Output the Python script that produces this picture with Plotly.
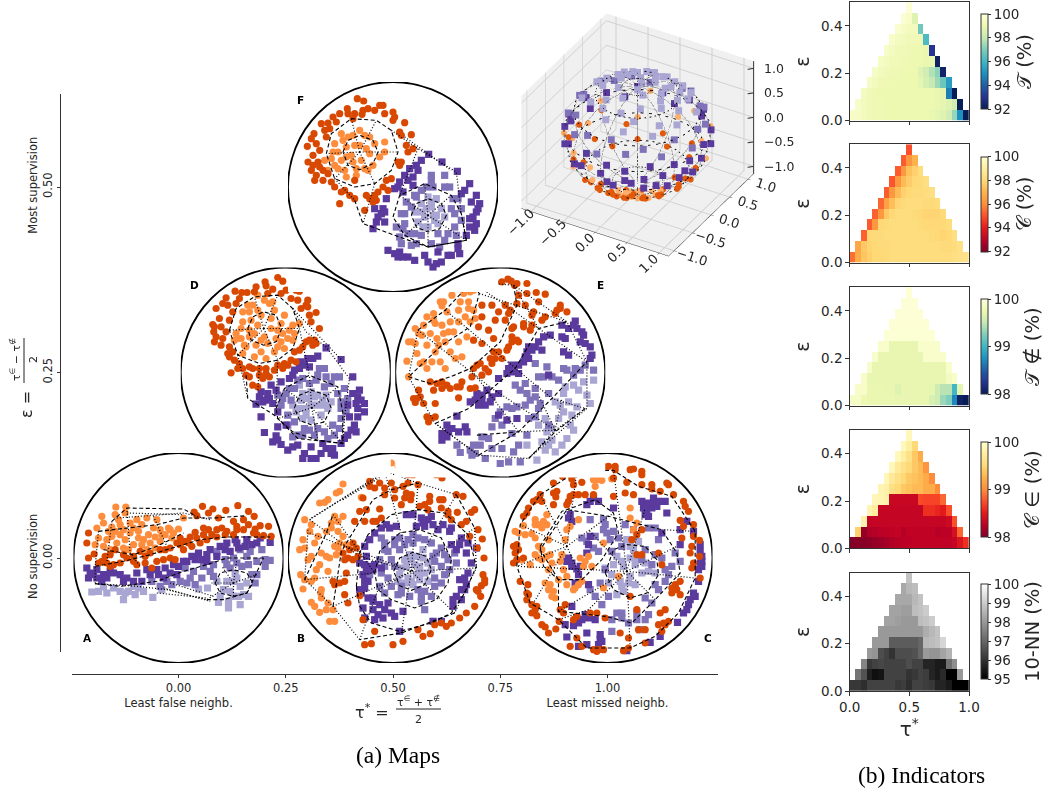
import numpy as np
import plotly.graph_objects as go

W, H = 1047, 789
FONT = "DejaVu Sans"
SERIF = "Liberation Serif"

# ---------- disc data: positions, on a 0-640 disc scale ----------
A_OD = [(397,170),(503,168),(535,185),(552,200),(467,182),(428,178),(415,190),(372,187),(380,198),(445,205),(520,210),(500,230),(555,238),(595,230),(570,228),(535,225),(580,258),(603,260),(550,250),(500,240),(470,245),(440,240),(415,240),(400,255),(375,248),(360,262),(330,265),(345,275),(320,280),(300,295),(270,300),(240,310),(210,305),(190,320),(170,325),(150,340),(120,350),(105,320),(85,340),(55,325),(50,280),(55,250),(72,313),(225,340),(260,335),(280,330),(300,325),(315,330),(365,290),(390,280),(410,270),(440,262),(465,255),(340,300),(245,355),(200,345),(190,335),(120,315),(135,300),(110,340),(130,345),(95,335),(160,315),(225,320),(285,300),(330,285),(355,280),(380,265),(425,255),(455,235),(490,215),(520,240),(490,255),(560,255),(400,235)]
A_OL = [(137,172),(167,172),(135,195),(165,190),(95,200),(100,220),(125,232),(150,225),(180,220),(200,210),(230,205),(260,210),(80,235),(110,270),(85,265),(75,285),(125,260),(150,255),(165,270),(180,250),(205,245),(235,255),(275,255),(295,235),(325,238),(340,205),(220,270),(190,285),(160,295),(215,285),(240,280),(270,275),(140,280),(300,240),(250,235),(305,265),(175,300),(115,245),(135,245),(190,235),(215,225),(270,240),(145,210),(160,240),(100,290),(205,265),(255,262),(285,255),(310,250),(230,300),(255,295),(120,300)]
A_PD = [(50,355),(60,370),(80,360),(100,375),(130,370),(150,375),(170,385),(200,370),(230,360),(260,360),(285,355),(310,345),(340,335),(365,320),(385,310),(395,330),(420,300),(450,290),(470,280),(495,270),(530,270),(570,265),(600,278),(545,285),(505,295),(480,305),(440,320),(410,335),(55,385),(80,385),(110,385),(190,395),(160,395),(215,395),(300,370),(320,375),(280,385),(95,395),(70,375),(120,365),(240,375),(265,375),(325,350),(350,335),(375,330),(410,315),(465,300),(500,280),(525,290),(560,280)]
A_PM = [(345,355),(370,365),(400,350),(430,345),(465,330),(490,325),(530,320),(575,300),(585,330),(600,332),(560,335),(540,305),(510,300),(330,395),(360,385),(395,385),(430,380),(245,395),(270,410),(305,405),(350,400),(480,355),(515,350),(560,375),(585,350),(555,400),(440,305),(470,345),(500,340),(420,365),(375,405),(290,395),(535,345),(545,375)]
A_PL = [(65,427),(85,425),(110,430),(150,425),(165,430),(195,435),(220,425),(160,450),(248,443),(275,420),(445,458),(475,455),(475,475),(510,465),(535,440),(520,435),(490,440),(510,410),(530,400),(470,395),(495,372),(440,395),(412,415),(385,418),(460,420),(490,395),(100,412),(130,415),(190,410),(175,425),(205,415),(500,385),(480,425),(505,440),(450,440)]
A_DASH = [[(75,350),(160,335),(240,315),(320,290),(390,270),(470,262),(600,262)],
          [(85,245),(170,235),(260,225),(340,205),(430,205),(530,198)],
          [(125,215),(170,175),(340,178),(370,195)],
          [(75,402),(150,410),(260,395),(340,365),(410,345),(470,325),(580,325)],
          [(100,300),(190,315),(260,290),(340,250)],
          [(435,400),(450,370),(490,360),(530,370),(548,400),(530,430),(490,440),(450,430),(435,400)],
          [(410,450),(460,450),(530,430),(580,325)]]
A_DOT = [[(75,402),(200,410),(290,420),(410,450)],[(170,175),(180,310),(210,350)],[(250,200),(290,290)],
         [(170,190),(340,195)],[(140,205),(340,190),(420,210)],[(260,430),(410,445)],[(490,400),(410,450)],[(490,400),(420,400)],
         [(490,400),(455,350)],[(490,400),(500,330)],[(490,400),(560,375)],[(490,400),(490,440)],[(85,245),(75,350),(75,402)],[(125,215),(110,340)],[(280,415),(420,455)],[(300,400),(430,440)]]

B_OD = [(440,70),(455,75),(472,85),(400,62),(385,75),(370,75),(370,100),(400,105),(355,110),(320,100),(285,100),(255,95),(270,115),(235,145),(300,135),(330,120),(330,145),(380,135),(378,150),(360,145),(350,165),(435,140),(435,155),(465,150),(475,150),(515,135),(535,140),(570,180),(560,188),(518,188),(490,185),(490,195),(430,180),(405,170),(245,180),(225,185),(285,178),(210,215),(240,215),(265,215),(290,205),(275,215),(500,210),(530,225),(580,240),(555,260),(593,268),(578,295),(598,325),(595,375),(600,390),(600,400),(590,408),(575,420),(588,440),(580,425),(570,470),(545,490),(525,505),(500,520),(485,530),(470,520),(450,525),(437,552),(415,560),(400,540),(355,575),(325,585),(260,582),(240,585),(270,545),(235,510),(205,280),(215,295),(220,320),(175,310),(190,325),(185,370),(180,395),(150,405),(145,395),(180,435),(190,460),(225,438),(195,300),(180,330),(205,330),(165,400),(255,110),(300,115),(365,130),(420,165),(470,175),(545,215)]
B_OL = [(320,40),(340,48),(175,103),(165,125),(155,130),(130,150),(120,158),(105,160),(230,143),(175,200),(150,200),(140,220),(60,210),(80,225),(75,245),(55,270),(45,300),(60,295),(90,280),(160,245),(175,260),(185,285),(150,290),(125,320),(155,315),(135,325),(80,320),(105,345),(130,365),(48,375),(90,385),(80,395),(60,390),(55,418),(108,430),(110,445),(80,458),(90,470),(105,488),(125,480),(145,480),(135,515),(150,515),(160,295),(140,235),(125,245),(165,280),(110,310),(95,360),(70,330),(110,420),(130,460),(160,215),(100,260)]
B_PD = [(225,340),(240,345),(255,350),(235,375),(250,395),(240,415),(225,420),(230,430),(250,445),(265,455),(285,465),(310,460),(235,475),(265,480),(240,505),(270,510),(295,505),(320,490),(330,500),(355,485),(345,545),(445,515),(470,515),(505,470),(515,440),(540,420),(545,405),(525,390),(550,370),(560,340),(545,310),(575,295),(550,280),(500,285),(525,285),(495,245),(500,235),(460,240),(430,210),(410,205),(395,230),(365,195),(305,225),(290,235),(255,270),(240,290),(335,230),(420,230),(440,200),(530,450),(270,345),(290,355),(245,320),(265,360),(245,365),(240,395),(265,445),(300,480),(280,495),(505,450),(530,420),(540,385),(515,300),(530,265),(475,225),(445,225),(415,220),(385,195),(315,235),(270,250)]
B_PM = [(345,265),(330,270),(290,265),(300,280),(310,305),(345,300),(370,270),(385,280),(420,270),(440,280),(470,295),(480,315),(445,320),(450,335),(470,350),(510,310),(515,340),(480,375),(450,385),(470,400),(420,425),(410,440),(410,455),(375,440),(340,435),(300,430),(285,410),(310,385),(290,370),(270,345),(320,330),(330,350),(285,330),(420,480),(350,410),(385,255),(300,300),(330,285),(360,285),(400,265),(455,310),(490,330),(495,360),(450,410),(440,440),(400,420),(350,430),(320,410),(300,350),(255,375)]
B_PL = [(360,330),(375,315),(395,320),(415,325),(430,340),(405,350),(395,375),(370,385),(360,400),(385,405),(405,390),(420,370),(345,375),(350,355),(390,345),(415,300),(440,360),(365,350),(380,330),(405,370),(380,395),(340,395),(430,395)]
B_DASH = [[(327,365),(345,325),(385,308),(425,320),(440,360),(420,405),(380,422),(345,408),(327,365)],
          [(270,370),(285,305),(345,250),(405,240),(470,265),(500,330),(490,400),(455,450),(390,475),(320,450),(280,420),(270,370)],
          [(215,410),(225,310),(250,255),(320,195),(400,180),(480,190),(550,255),(575,350),(540,430),(500,490),(440,520),(345,545),(260,520),(225,470),(215,410)],
          [(145,470),(170,305),(265,150),(320,120),(400,100)],[(60,390),(125,250),(145,195)],[(515,135),(570,235)],[(510,490),(350,550),(225,570)]]
B_DOT = [[(400,100),(515,135)],[(570,235),(575,355),(510,490)],[(225,570),(145,470),(60,390)],[(75,210),(300,65)],[(80,205),(300,70)],[(300,65),(400,100)],[(70,240),(60,390)],[(75,210),(225,320),(380,365)],
         [(145,195),(270,370)],[(75,250),(380,365)],[(60,390),(270,370)],[(145,470),(380,365)],[(225,570),(280,420),(380,365)],[(350,550),(380,365)],[(510,490),(380,365)],[(575,355),(380,365)],[(570,235),(380,365)],[(515,135),(380,365)],[(400,100),(380,365)],[(300,65),(380,365)],[(175,150),(300,75)]]

C_OD = [(240,58),(255,55),(270,52),(285,50),(300,48),(330,50),(350,50),(350,60),(395,60),(405,58),(430,65),(430,75),(345,85),(385,98),(430,105),(460,105),(505,100),(510,105),(460,118),(485,125),(380,130),(405,135),(345,140),(165,100),(192,80),(220,88),(225,105),(250,98),(175,125),(165,130),(172,142),(125,135),(105,155),(130,155),(85,190),(75,200),(225,135),(240,135),(210,155),(205,165),(165,165),(260,135),(525,135),(555,155),(560,170),(570,185),(545,212),(555,230),(585,225),(550,265),(585,260),(603,272),(580,290),(575,310),(603,320),(585,340),(580,355),(605,385),(545,395),(530,405),(520,415),(520,430),(545,435),(45,290),(55,285),(50,310),(45,340),(75,325),(65,395),(88,405),(85,430),(85,450),(100,465),(115,470),(100,490),(115,498),(130,525),(140,532),(150,550),(172,538),(182,515),(200,465),(185,480),(195,490),(235,500),(225,510),(215,590),(235,565),(250,590),(285,600),(295,605),(315,600),(375,603),(390,595),(440,580),(420,540),(440,540),(365,550),(390,565),(320,505),(295,490),(275,490),(480,525),(495,520),(510,515),(490,545),(485,490),(500,480),(415,480),(395,440),(415,315),(430,315),(480,310),(490,345),(400,270),(415,255),(430,240),(280,65),(320,52),(115,150),(90,175),(60,300),(55,330),(90,435),(110,480),(500,525),(530,410),(535,420),(300,600),(285,135),(215,140)]
C_OL = [(285,90),(295,90),(310,92),(340,88),(290,110),(145,195),(110,210),(110,225),(135,215),(145,225),(130,235),(75,228),(50,245),(80,255),(100,252),(110,265),(150,270),(215,230),(205,240),(240,210),(200,270),(120,290),(110,315),(145,320),(155,315),(130,330),(95,345),(70,330),(150,360),(185,335),(190,315),(205,380),(180,390),(140,400),(155,405),(225,420),(230,415),(250,395),(160,440),(170,445),(205,405),(315,280),(360,380),(315,415),(255,350),(245,325),(270,320),(280,350),(395,175),(415,220),(395,205),(405,240),(120,225),(60,250),(130,300),(120,325),(160,340),(195,360),(150,420),(165,425),(240,405),(260,335)]
C_PD = [(285,145),(300,155),(265,165),(210,205),(220,215),(430,155),(445,160),(465,145),(465,160),(435,175),(445,180),(460,175),(475,170),(450,200),(500,155),(505,190),(490,250),(545,240),(565,215),(585,245),(605,285),(605,305),(610,320),(605,340),(610,335),(545,285),(600,395),(585,430),(575,450),(570,465),(555,490),(537,518),(485,560),(455,578),(385,603),(205,562),(240,590),(265,585),(305,555),(310,575),(300,585),(260,495),(270,505),(250,510),(240,520),(225,528),(200,525),(265,550),(220,470),(205,335),(220,350),(235,358),(245,350),(270,285),(265,310),(230,400),(270,405),(275,260),(345,175),(440,195),(480,155),(275,155),(215,195),(220,340),(210,325),(240,375),(290,510),(235,505),(305,570),(590,440),(565,480),(610,350),(600,360)]
C_PM = [(275,210),(315,210),(320,225),(315,240),(345,245),(380,225),(405,240),(335,270),(360,265),(450,235),(470,235),(480,270),(530,310),(545,335),(490,325),(500,360),(510,375),(470,315),(430,330),(300,305),(320,360),(305,400),(275,420),(310,465),(355,490),(370,505),(390,520),(415,490),(415,510),(340,545),(425,540),(450,495),(460,460),(265,275),(250,265),(340,510),(480,420),(290,260),(285,295),(325,250),(340,305),(370,290),(440,300),(460,345),(520,350),(500,395),(470,405),(440,445),(290,440),(330,440),(370,490),(440,510)]
C_PL = [(385,270),(420,275),(405,300),(355,320),(370,335),(345,345),(395,325),(410,345),(430,370),(365,395),(390,400),(410,405),(375,425),(355,435),(340,375),(320,355),(450,365),(470,370),(375,350),(395,290),(415,325),(440,340),(395,380),(370,410),(330,400)]
C_DASH = [[(320,370),(345,300),(385,285),(440,290),(475,330),(480,375),(445,430),(395,445),(345,420),(320,370)],
          [(180,390),(125,300),(205,180),(330,200),(490,240),(535,310),(545,370),(470,450),(400,520),(320,500),(180,485),(180,390)],
          [(55,350),(65,225),(125,135),(235,65),(345,62),(420,110),(520,140),(590,245),(590,385),(540,490),(470,560),(395,595),(265,595),(180,510),(95,460),(55,350)],
          [(125,290),(190,185),(290,150),(345,190),(360,250),(310,330),(250,390),(180,390),(135,350),(125,290)]]
C_DOT = [[(385,365),(590,385)],[(385,365),(535,290)],[(385,365),(440,175)],[(385,365),(345,62)],[(385,365),(270,240)],[(385,365),(55,350)],[(385,365),(180,485)],[(385,365),(270,480)],[(385,365),(395,595)],[(385,365),(470,450)],
         [(205,290),(65,225)],[(205,290),(125,135)],[(205,290),(235,65)],[(205,290),(345,190)],[(205,290),(250,390)],[(205,290),(55,350)],[(205,290),(105,460)],[(590,245),(490,240)],[(270,480),(180,510)]]

D_OD = [(300,47),(315,58),(262,60),(265,72),(235,75),(172,88),(192,92),(208,92),(285,82),(325,85),(310,95),(355,85),(365,88),(145,108),(185,110),(135,125),(150,130),(360,115),(390,115),(385,130),(390,135),(115,140),(165,150),(125,170),(415,152),(155,175),(105,188),(110,195),(130,195),(400,180),(425,200),(108,210),(115,225),(110,240),(130,250),(155,255),(165,270),(155,285),(170,295),(185,305),(160,333),(195,320),(215,315),(225,320),(245,320),(265,320),(265,335),(245,340),(225,370),(240,375),(275,345),(300,310),(320,305),(340,295),(350,270),(365,265),(385,240),(410,235),(415,245),(405,250),(215,345),(205,340),(330,310),(355,300),(175,125),(230,90),(270,95),(340,110),(370,140),(395,160),(135,230),(145,210),(150,275),(180,320),(255,350),(290,325),(315,320),(375,255),(395,235)]
D_OL = [(260,115),(285,120),(240,100),(210,130),(195,150),(290,145),(320,160),(240,145),(220,175),(240,190),(195,180),(190,200),(230,215),(260,225),(280,200),(300,205),(335,205),(365,185),(330,230),(295,230),(270,245),(235,250),(205,255),(170,235),(180,230),(200,250),(250,270),(290,270),(320,260),(300,255),(345,235),(230,285),(195,275),(175,215),(350,215),(215,150),(250,160),(280,170),(215,205),(250,235),(215,225),(310,185),(315,215),(275,125),(225,130),(190,230),(265,290),(310,240),(345,190)]
D_PD = [(445,258),(490,293),(420,283),(405,290),(390,290),(370,300),(395,315),(365,320),(345,340),(335,350),(310,360),(280,370),(250,390),(270,395),(245,405),(265,415),(285,425),(235,427),(250,465),(300,450),(525,345),(545,385),(525,395),(540,405),(560,425),(540,440),(560,450),(540,465),(530,490),(535,510),(500,530),(490,545),(260,512),(295,522),(285,540),(310,548),(330,565),(360,550),(380,575),(375,590),(400,590),(430,575),(460,575),(465,560),(400,555),(435,545),(300,495),(325,490),(515,465),(510,430),(380,310),(350,325),(295,385),(275,410),(255,420),(535,425),(550,415),(520,505),(510,520),(470,580),(445,560),(415,590),(345,555),(300,535)]
D_PM = [(425,320),(440,320),(485,345),(460,365),(415,355),(440,375),(375,350),(395,365),(350,380),(325,395),(340,415),(500,380),(480,395),(490,420),(300,400),(310,430),(330,460),(350,480),(380,500),(440,510),(465,490),(490,470),(505,450),(360,520),(410,520),(345,525),(450,530),(420,340),(360,355),(445,345),(470,345),(335,380),(315,410),(510,410),(490,440),(330,490),(375,520),(395,505),(420,500),(470,520),(485,500)]
D_PL = [(375,395),(400,390),(420,400),(445,400),(460,420),(450,440),(430,460),(400,475),(375,470),(355,450),(345,430),(370,415),(385,440),(420,430),(410,405),(365,370),(390,410),(400,430),(435,415),(440,430),(385,460),(365,440)]
D_DASH = [[(210,200),(225,165),(258,150),(295,160),(312,200),(295,240),(258,250),(220,235),(210,200)],
          [(155,205),(175,140),(230,105),(300,100),(345,140),(365,200),(345,260),(300,295),(245,305),(180,280),(155,205)],
          [(350,438),(365,400),(402,385),(445,400),(460,438),(440,480),(402,490),(365,475),(350,438)],
          [(295,440),(320,380),(395,340),(480,375),(495,450),(495,545),(420,535),(345,510),(300,470),(295,440)],
          [(205,340),(210,410),(290,460),(360,530),(495,545)]]
D_DOT = [[(345,140),(385,210),(445,255),(515,350),(500,470),(495,545)],[(180,280),(210,410)],[(245,310),(240,390)],[(300,295),(295,440)],[(365,200),(395,340)],[(345,140),(490,293)],
         [(258,200),(230,105)],[(258,200),(300,100)],[(258,200),(365,200)],[(258,200),(300,295)],[(258,200),(180,280)],[(258,200),(155,205)],
         [(402,438),(320,380)],[(402,438),(395,340)],[(402,438),(480,375)],[(402,438),(495,545)],[(402,438),(420,535)],[(402,438),(300,470)]]

E_OD = [(240,60),(260,60),(300,58),(310,62),(348,52),(358,58),(368,70),(405,65),(433,92),(460,97),(405,95),(380,100),(400,130),(440,120),(505,130),(495,145),(525,150),(490,155),(450,175),(425,150),(420,160),(340,130),(375,125),(350,155),(320,150),(300,130),(270,130),(310,175),(260,195),(290,205),(245,235),(270,245),(305,230),(360,200),(365,195),(395,195),(420,190),(415,205),(360,225),(375,235),(360,240),(345,265),(320,270),(305,270),(295,290),(300,305),(330,290),(255,310),(245,320),(290,330),(270,340),(240,345),(210,360),(195,375),(175,380),(150,380),(135,365),(115,360),(235,380),(250,378),(200,408),(150,360),(130,425),(95,425),(65,410),(70,422),(105,465),(115,470),(130,465),(110,480),(85,405),(80,385),(375,65),(330,60),(270,165),(355,145),(340,175),(395,185),(310,290),(265,305),(280,320),(205,375),(165,370),(125,385),(350,255),(460,165),(505,140),(380,240),(75,410)]
E_OL = [(145,120),(155,120),(150,132),(180,100),(195,78),(235,90),(245,85),(205,120),(230,120),(245,145),(230,140),(200,145),(105,165),(125,175),(95,190),(70,200),(60,240),(50,240),(80,215),(105,250),(135,230),(155,215),(185,210),(160,240),(200,240),(235,180),(200,180),(175,180),(150,190),(45,298),(75,275),(85,305),(105,320),(145,300),(160,320),(190,290),(210,285),(130,185),(50,345),(165,150),(215,95),(125,155),(90,220),(70,245),(115,215),(140,250),(170,210),(220,165),(250,170),(130,270),(95,300),(120,300),(175,270),(225,225)]
E_PD = [(550,178),(510,190),(530,200),(555,200),(570,210),(575,220),(520,230),(580,245),(595,255),(475,220),(455,225),(430,255),(405,270),(450,265),(410,290),(395,300),(350,320),(380,310),(365,330),(380,335),(320,350),(515,270),(530,280),(600,280),(595,290),(470,340),(285,385),(255,395),(270,410),(280,430),(260,430),(295,420),(320,395),(235,420),(195,463),(165,490),(180,500),(150,515),(150,535),(200,510),(220,495),(225,510),(320,460),(345,475),(375,470),(400,285),(420,265),(360,310),(345,335),(510,225),(565,240),(270,400),(250,415),(300,405),(170,510),(165,525),(440,240),(410,255),(545,190)]
E_PM = [(430,305),(465,315),(515,320),(550,320),(580,310),(605,325),(480,345),(545,340),(500,355),(400,365),(370,370),(430,380),(405,395),(430,405),(470,395),(400,430),(375,435),(345,435),(325,450),(300,495),(330,490),(290,530),(270,525),(235,565),(240,580),(205,572),(195,550),(280,590),(325,605),(350,600),(330,560),(385,600),(360,515),(405,520),(380,550),(245,550),(440,440),(430,465),(470,490),(525,325),(565,325),(455,345),(440,345),(385,385),(415,415),(445,425),(360,440),(310,470),(265,550),(300,560),(250,575),(365,570),(410,470)]
E_PL = [(515,395),(545,370),(575,360),(605,355),(585,400),(595,425),(515,450),(540,460),(490,420),(460,470),(480,500),(545,505),(440,490),(450,540),(470,550),(490,570),(510,550),(435,595),(405,550),(530,420),(560,385),(520,375),(505,430),(555,435),(465,510),(500,470),(535,490),(460,565),(480,535),(525,530)]
E_DASH = [[(50,345),(115,365),(175,345),(235,320),(325,240),(375,130),(365,70)],
          [(130,485),(230,440),(300,380),(370,320),(440,200),(525,180)],
          [(260,580),(380,510),(480,410),(585,300)],[(410,590),(490,510),(580,440)],[(255,520),(380,510)],
          [(78,205),(160,145),(240,60),(262,95),(235,195),(150,250),(50,345)]]
E_DOT = [[(240,60),(365,70),(525,180),(585,300),(585,440),(410,590),(260,580),(130,485),(50,345),(78,205)],
         [(490,505),(380,510)],[(490,505),(410,590)],[(490,505),(580,440)],[(490,505),(510,410)],[(490,505),(440,400)],
         [(160,145),(370,320),(480,410),(580,440)],[(78,205),(300,380),(490,505)],[(365,70),(440,200),(585,300)],[(240,60),(440,200)],[(262,95),(525,180)],[(235,320),(380,510)],[(130,485),(260,580)]]

F_OD = [(218,55),(237,62),(285,75),(295,75),(250,85),(235,90),(232,102),(188,85),(165,100),(190,100),(210,100),(300,100),(325,95),(330,110),(360,127),(110,130),(130,128),(155,125),(135,145),(88,160),(125,170),(80,175),(95,190),(68,198),(85,225),(345,155),(380,163),(365,195),(385,205),(370,215),(70,245),(85,255),(100,245),(105,260),(80,270),(95,285),(90,300),(115,300),(130,280),(340,245),(345,255),(320,295),(305,300),(295,320),(280,335),(270,345),(275,360),(245,345),(150,320),(170,335),(195,345),(210,355),(165,370),(240,390),(210,300),(270,90),(205,115),(145,110),(120,150),(105,210),(115,270),(140,305),(180,330),(350,245),(310,330),(265,365),(255,355),(350,165),(325,120)]
F_OL = [(225,150),(205,165),(240,165),(175,180),(150,190),(185,200),(160,215),(200,225),(245,205),(230,240),(205,245),(185,230),(140,235),(160,265),(265,255),(185,290),(215,285),(130,270),(120,240),(300,215),(270,190),(255,220),(300,185),(250,270),(210,195),(225,195),(190,170),(170,240),(215,265),(180,270),(240,265),(285,230),(255,170),(170,160),(150,255),(145,215)]
F_PD = [(432,222),(472,245),(518,273),(410,240),(395,255),(375,265),(360,285),(385,290),(345,305),(330,325),(385,315),(355,335),(305,355),(270,385),(295,385),(280,410),(300,425),(265,445),(310,510),(345,515),(340,530),(370,530),(390,540),(430,545),(445,560),(470,545),(490,525),(525,520),(545,465),(570,450),(575,430),(555,415),(575,395),(585,370),(560,365),(575,345),(555,310),(530,340),(520,490),(460,515),(420,525),(370,300),(400,270),(340,320),(290,400),(300,395),(275,425),(565,410),(580,385),(555,440),(520,505),(500,525),(455,550),(355,530),(330,520),(540,330)]
F_PM = [(480,285),(440,285),(425,320),(410,330),(390,345),(365,365),(360,400),(335,440),(360,430),(390,460),(410,465),(440,490),(480,480),(510,440),(530,420),(530,385),(505,355),(495,320),(520,355),(350,490),(395,490),(460,460),(370,460),(445,320),(480,320),(500,385),(510,400),(515,465),(490,460),(465,500),(350,400),(355,445),(440,300),(395,350),(380,380),(345,470),(380,495)]
F_PL = [(430,350),(455,355),(470,385),(480,410),(460,430),(430,440),(400,425),(390,395),(410,370),(440,380),(445,405),(420,410),(410,395),(440,365),(455,405),(450,420),(415,440),(425,385)]
F_DASH = [[(175,215),(190,180),(225,165),(265,180),(280,215),(265,250),(225,268),(190,255),(175,215)],
          [(125,220),(140,160),(200,115),(275,120),(320,150),(340,215),(320,270),(270,310),(210,320),(150,295),(125,220)],
          [(380,405),(395,370),(430,355),(470,370),(485,405),(465,445),(430,455),(395,440),(380,405)],
          [(325,410),(345,345),(420,310),(500,345),(530,400),(545,480),(430,500),(360,465),(325,410)],
          [(210,360),(235,430),(330,465),(430,500),(545,480)]]
F_DOT = [[(320,150),(400,205),(515,275),(530,400),(545,480)],[(150,295),(210,360)],[(270,310),(235,430)],[(400,205),(345,345)],[(360,170),(430,220),(500,270)],
         [(225,215),(200,115)],[(225,215),(275,120)],[(225,215),(340,215)],[(225,215),(270,310)],[(225,215),(150,295)],[(225,215),(125,220)],
         [(430,405),(345,345)],[(430,405),(420,310)],[(430,405),(500,345)],[(430,405),(545,480)],[(430,405),(430,500)],[(430,405),(360,465)]]

DISC_CENTRES = {"A": (0.0, 0.0), "B": (0.5, 0.0), "C": (1.0, 0.0), "D": (0.25, 0.25), "E": (0.75, 0.25), "F": (0.5, 0.5)}
DISC_SCALE_CENTRE = {"A": (325, 325), "B": (325, 325), "C": (327, 325), "D": (324, 332), "E": (325, 332), "F": (325, 320)}
DISC_DATA = {"A": (A_OD, A_OL, A_PD, A_PM, A_PL, A_DASH, A_DOT), "B": (B_OD, B_OL, B_PD, B_PM, B_PL, B_DASH, B_DOT),
             "C": (C_OD, C_OL, C_PD, C_PM, C_PL, C_DASH, C_DOT), "D": (D_OD, D_OL, D_PD, D_PM, D_PL, D_DASH, D_DOT),
             "E": (E_OD, E_OL, E_PD, E_PM, E_PL, E_DASH, E_DOT), "F": (F_OD, F_OL, F_PD, F_PM, F_PL, F_DASH, F_DOT)}

# ---------- sphere data (latitude, longitude in degrees) ----------
S_PL = [(75,-150),(72,-100),(78,-40),(70,10),(74,60),(76,110),(70,160),(60,-170),(62,-125),(58,-85),(64,-55),(60,-20),(56,15),(62,45),(58,80),(63,120),(58,150),(50,-140),(48,-100),(52,-65),(46,-35),(50,0),(47,30),(52,65),(48,100),(46,135),(50,175),(40,-160),(42,-75),(38,-45),(41,-15),(36,20),(40,50),(37,90),(42,125),(85,-60),(85,80),(66,-10),(55,-115),(44,170),(68,35),(65,85),(67,140),(55,35),(53,100),(54,165),(45,60),(45,110)]
S_PM = [(30,-175),(32,-140),(28,-110),(33,-85),(27,-55),(30,-25),(26,5),(32,35),(28,65),(33,95),(27,125),(30,155),(18,-160),(20,-125),(16,-95),(22,-70),(18,-40),(15,-10),(21,20),(17,50),(20,80),(16,110),(22,140),(18,170)]
S_PD = [(8,-170),(10,-150),(6,-130),(12,-105),(8,-85),(5,-70),(10,-50),(7,-30),(4,-15),(9,5),(6,30),(10,55),(7,75),(4,100),(9,120),(6,145),(10,165),(-4,-175),(-2,-140),(-5,-110),(-3,-90),(-6,-70),(-4,-55),(-2,-40),(-5,-20),(-3,0),(-6,25),(-2,60),(-5,90),(-3,130),(-6,160),(-10,-120),(-12,-85),(-9,-65),(-14,-45),(-11,-25),(-13,-10),(-15,-80),(-16,-55),(-18,-35)]
S_OL = [(-2,-155),(3,-120),(-1,-100),(2,40),(-3,70),(4,110),(-2,150),(-20,-170),(-22,-130),(-18,-100),(-25,-70),(-20,20),(-23,50),(-17,85),(-24,120),(-19,165),(-62,-90),(-64,-70),(-68,-50),(-60,-30),(-70,-110),(-72,-20),(-75,-80),(-66,-10),(-58,-60),(-55,-45),(-78,-60),(-82,-30)]
S_OD = [(-30,-150),(-35,-120),(-33,-100),(-38,-85),(-32,-65),(-36,-40),(-30,-20),(-34,0),(-38,25),(-32,60),(-36,95),(-30,130),(-35,165),(-42,-160),(-46,-125),(-44,-105),(-48,-85),(-45,-75),(-42,-55),(-47,-35),(-44,-12),(-48,15),(-42,50),(-46,85),(-44,120),(-47,150),(-52,-100),(-55,-75),(-52,-50),(-56,-25),(-52,5),(-58,-130),(-60,-105),(-62,-50),(-65,-5),(-60,30),(-72,-70),(-76,-100),(-80,-40),(-68,-85),(-15,-165),(-15,175),(-12,150)]
S_MESH_LATS = [-70, -45, -20, 5, 30, 55, 78]
S_MESH_LONS = [-180, -150, -120, -90, -60, -30, 0, 30, 60, 90, 120, 150]
S_MESH_STEP_LON = [-180,-165,-150,-135,-120,-105,-90,-75,-60,-45,-30,-15,0,15,30,45,60,75,90,105,120,135,150,165,180]
S_MESH_STEP_LAT = [-85,-70,-55,-40,-25,-10,5,20,35,50,65,78,88]
S_TICKS = [-1, -.5, 0, .5, 1]
S_TICK_TEXT = ["−1.0", "−0.5", "0.0", "0.5", "1.0"]
S_LIM = 1.15

# ---------- heatmap rows: bottom row first ----------
T_IN = [
 [99.6,99.5,99.3,99.2,99.1,99.1,99.0,99.0,99.0,99.0,99.0,99.0,99.0,99.0,98.9,98.8,98.6,98.3,97.3,95.0,92.0],
 [99.6,99.3,99.2,99.1,99.1,99.0,99.0,99.0,99.0,99.0,99.0,99.0,99.0,99.0,98.9,98.8,98.6,98.2,92.0],
 [99.4,99.2,99.1,99.0,99.0,99.0,99.0,99.0,99.0,99.0,99.0,99.0,99.0,98.9,98.8,94.6,92.0],
 [99.5,99.3,99.1,99.1,99.0,99.0,99.0,99.0,99.0,98.8,98.4,98.0,97.4,96.7,95.3],
 [99.5,99.3,99.2,99.1,99.1,99.0,99.0,99.0,98.6,98.3,97.7,97.2,92.3],
 [99.5,99.4,99.2,99.2,99.1,99.0,99.0,99.0,98.9,98.9,92.2],
 [99.6,99.4,99.2,99.2,99.1,99.0,99.0,98.9,93.0],
 [99.6,99.4,99.3,99.2,99.2,99.1,96.2],
 [99.7,99.5,99.3,99.3,96.8],
 [99.8,99.6,98.6],
 [99.9]]
C_IN = [
 [95.5,96.8,97.5,97.8,98.0,98.0,98.1,98.2,98.2,98.2,98.2,98.2,98.2,98.2,98.2,98.2,98.2,98.2,98.3,98.4,98.5],
 [96.7,97.6,97.9,98.0,98.1,98.1,98.2,98.2,98.2,98.2,98.2,98.2,98.2,98.2,98.2,98.1,98.1,98.2,98.4],
 [95.3,98.0,98.1,98.1,98.2,98.2,98.2,98.2,98.2,98.2,98.2,98.2,98.1,98.0,97.9,98.0,98.3],
 [95.2,96.3,98.0,98.1,98.2,98.2,98.2,98.2,98.2,98.1,98.0,98.0,98.0,98.0,98.2],
 [95.3,96.3,97.6,98.0,98.2,98.2,98.2,98.1,98.0,97.9,97.9,97.9,98.1],
 [95.4,96.5,97.3,97.9,98.1,98.2,98.2,98.2,98.1,98.1,98.2],
 [95.2,96.3,97.2,97.8,98.0,98.1,98.1,98.2,98.3],
 [95.1,96.3,97.2,97.7,98.0,98.1,98.3],
 [95.2,96.3,97.4,97.8,98.2],
 [95.2,96.2,97.0],
 [95.0]]
T_OUT = [
 [99.88,99.88,99.76,99.74,99.74,99.74,99.73,99.73,99.72,99.72,99.72,99.72,99.72,99.72,99.62,99.55,99.35,99.25,98.7,98.05,98.0],
 [99.9,99.9,99.74,99.73,99.73,99.72,99.72,99.65,99.72,99.72,99.72,99.72,99.72,99.7,99.55,99.45,99.45,99.0,99.7],
 [99.9,99.72,99.72,99.72,99.72,99.72,99.72,99.72,99.72,99.72,99.72,99.72,99.72,99.72,99.72,99.85,99.9],
 [99.9,99.72,99.72,99.72,99.72,99.72,99.72,99.72,99.72,99.72,99.72,99.72,99.72,99.72,99.92],
 [99.92,99.72,99.72,99.72,99.72,99.72,99.72,99.72,99.72,99.92,99.92,99.92,99.92],
 [99.92,99.92,99.72,99.72,99.72,99.72,99.72,99.92,99.92,99.92,99.92],
 [99.96,99.96,99.96,99.96,99.96,99.96,99.96,99.96,99.96],
 [99.97,99.97,99.97,99.97,99.97,99.97,99.97],
 [99.98,99.98,99.98,99.98,99.98],
 [99.98,99.98,99.98],
 [99.99]]
C_OUT = [
 [98.02,98.03,98.03,98.05,98.08,98.12,98.15,98.2,98.22,98.25,98.25,98.27,98.27,98.27,98.27,98.27,98.27,98.27,98.3,98.45,98.6],
 [99.45,98.08,98.2,98.22,98.25,98.25,98.27,98.28,98.22,98.27,98.27,98.27,98.27,98.27,98.22,98.25,98.25,98.4,98.85],
 [99.8,98.28,98.3,98.3,98.3,98.3,98.3,98.3,98.3,98.3,98.3,98.3,98.3,98.3,98.3,98.35,98.75],
 [99.85,99.75,98.3,98.3,98.3,98.3,98.3,98.3,98.3,98.3,98.6,98.6,98.55,98.5,98.75],
 [99.88,99.85,99.8,98.32,98.32,98.32,98.32,98.32,98.72,98.7,98.7,98.7,98.85],
 [99.85,99.8,99.6,99.5,99.4,99.35,99.3,99.3,99.2,99.2,99.0],
 [99.88,99.7,99.6,99.5,99.4,99.35,99.3,99.2,99.0],
 [99.9,99.7,99.6,99.5,99.4,99.3,99.05],
 [99.9,99.75,99.6,99.4,99.2],
 [99.9,99.75,99.5],
 [99.9]]
KNN = [
 [96.1,96.1,95.9,96.3,96.3,96.3,96.3,96.3,96.1,96.2,95.9,96.3,96.3,96.2,96.1,95.7,95.7,95.5,95.0,95.0,95.0],
 [97.3,96.6,95.6,95.3,95.4,96.3,96.3,96.3,96.3,96.0,96.1,96.3,96.2,95.7,95.5,95.8,95.0,95.0,98.0],
 [97.6,96.1,96.3,96.4,96.3,96.3,96.3,96.3,96.5,96.3,96.3,95.7,95.7,95.5,95.5,97.2,97.8],
 [98.0,97.9,96.5,96.3,96.0,96.5,96.5,96.5,96.6,97.0,98.0,97.9,97.9,98.2,98.5],
 [98.0,98.0,98.0,96.8,96.8,96.8,96.8,96.8,97.0,98.6,98.7,98.8,99.2],
 [98.0,98.0,98.0,98.0,98.0,98.0,98.0,98.0,98.4,98.6,98.8],
 [98.2,98.2,98.1,98.0,98.0,98.0,98.7,98.8,99.0],
 [98.2,98.2,98.1,98.1,98.7,98.8,99.0],
 [98.3,98.3,98.3,98.6,98.8],
 [98.3,98.6,98.7],
 [98.8]]

HEAT_ROWS = [T_IN, C_IN, T_OUT, C_OUT, KNN]
HEAT_RANGES = [(92, 100), (92, 100), (98, 100), (98, 100), (95, 100)]
HEAT_TICKS = [[92, 94, 96, 98, 100], [92, 94, 96, 98, 100], [98, 99, 100], [98, 99, 100], [95, 96, 97, 98, 99, 100]]
HEAT_TITLES = ["𝒯 (%)", "𝒞 (%)", "𝒯 ∉ (%)", "𝒞 ∈ (%)", "10-NN (%)"]
YLGNBU_R = ["#081d58", "#253494", "#225ea8", "#1d91c0", "#41b6c4", "#7fcdbb", "#c7e9b4", "#edf8b1", "#ffffd9"]
YLORRD_R = ["#800026", "#bd0026", "#e31a1c", "#fc4e2a", "#fd8d3c", "#feb24c", "#fed976", "#ffeda0", "#ffffcc"]
GRAY = ["#000000", "#ffffff"]
HEAT_CMAPS = [YLGNBU_R, YLORRD_R, YLGNBU_R, YLORRD_R, GRAY]
HEAT_BOX_TOP = [2.3, 144.3, 287.3, 430.0, 572.7]
HEAT_BOX_H = 118.4
HEAT_BAR_CENTRE = [61.5, 204, 346.5, 489.5, 631.5]

ORANGE_DARK, ORANGE_LIGHT = "#d94801", "#fd8d3c"
PURPLE_DARK, PURPLE_MID, PURPLE_LIGHT = "#5b3a9e", "#7f72b8", "#a9a6d4"

# main axes geometry
X0_PX, X1_PX, XSCALE = 178.5, 607.5, 429.0
Y0_PX, Y1_PX, YSCALE = 558.0, 187.0, 742.0
AX_L, AX_R, AX_T, AX_B = 72, 718, 94, 652
AX_Y, AX_X = 674, 60
R_PX = 105.0

fig = go.Figure()
layout = dict(
    width=W, height=H, autosize=False, margin=dict(l=0, r=0, t=0, b=0, autoexpand=False),
    paper_bgcolor="white", plot_bgcolor="white", showlegend=False,
    font=dict(family=FONT, color="#262626"),
)

# main axes
layout["xaxis"] = dict(domain=[AX_L / W, AX_R / W], range=[(AX_L - X0_PX) / XSCALE, (AX_R - X0_PX) / XSCALE],
                       anchor="free", position=1 - AX_Y / H, showgrid=False, zeroline=False, showline=True,
                       linecolor="#333", linewidth=1, ticks="outside", ticklen=3, tickcolor="#333",
                       tickvals=[0, .25, .5, .75, 1],
                       ticktext=["0.00<br>Least false neighb.", "0.25", "0.50", "0.75", "1.00<br>Least missed neighb."],
                       tickfont=dict(size=11.5), tickangle=0)
layout["yaxis"] = dict(domain=[1 - AX_B / H, 1 - AX_T / H], range=[(Y0_PX - AX_B) / YSCALE, (Y0_PX - AX_T) / YSCALE],
                       anchor="free", position=AX_X / W, showgrid=False, zeroline=False, showline=True,
                       linecolor="#333", linewidth=1, ticks="outside", ticklen=3, tickcolor="#333",
                       tickvals=[0, .25, .5], ticktext=["No supervision<br>0.00", "0.25", "Most supervision<br>0.50"],
                       tickfont=dict(size=11.5), tickangle=-90)
fig.add_trace(go.Scatter(x=[None], y=[None], xaxis="x", yaxis="y", hoverinfo="skip"))

shapes = []
idx = 2
for name, (tx, ty) in DISC_CENTRES.items():
    cx_px = X0_PX + tx * XSCALE
    cy_px = Y0_PX - ty * YSCALE
    sx, sy = DISC_SCALE_CENTRE[name]
    xn, yn = f"xaxis{idx}", f"yaxis{idx}"
    xr, yr = f"x{idx}", f"y{idx}"
    layout[xn] = dict(domain=[(cx_px - R_PX) / W, (cx_px + R_PX) / W], range=[sx - 315, sx + 315], visible=False,
                      anchor=yr, showgrid=False, zeroline=False)
    layout[yn] = dict(domain=[1 - (cy_px + R_PX) / H, 1 - (cy_px - R_PX) / H], range=[sy + 315, sy - 315], visible=False,
                      anchor=xr, showgrid=False, zeroline=False)
    od, ol, pd_, pm, pl, dash, dot = DISC_DATA[name]
    for pts, col, sym in [(pl, PURPLE_LIGHT, "square"), (pm, PURPLE_MID, "square"), (pd_, PURPLE_DARK, "square"),
                          (ol, ORANGE_LIGHT, "circle"), (od, ORANGE_DARK, "circle")]:
        fig.add_trace(go.Scatter(x=[p[0] for p in pts], y=[p[1] for p in pts], mode="markers", xaxis=xr, yaxis=yr,
                                 marker=dict(color=col, size=7.2, symbol=sym, line=dict(width=0)), hoverinfo="skip"))
    for lines, style, width in [(dot, "1px,2px", 1.2), (dash, "4px,2.5px", 1.1)]:
        xs, ys = [], []
        for ln in lines:
            xs += [p[0] for p in ln] + [None]
            ys += [p[1] for p in ln] + [None]
        fig.add_trace(go.Scatter(x=xs, y=ys, mode="lines", xaxis=xr, yaxis=yr,
                                 line=dict(color="black", width=width, dash=style), hoverinfo="skip"))
    shapes.append(dict(type="circle", xref=xr, yref=yr, x0=sx - 315, x1=sx + 315, y0=sy - 315, y1=sy + 315,
                       line=dict(color="black", width=1.8), layer="above"))
    idx += 1

# heatmaps
for k in range(5):
    rows = HEAT_ROWS[k]
    z = [[None] * 21 for _ in range(11)]
    for j, row in enumerate(rows):
        for i, v in enumerate(row):
            z[j][j + i] = v
    xr, yr = f"x{idx}", f"y{idx}"
    top = HEAT_BOX_TOP[k]
    last = k == 4
    xax = dict(domain=[849.7 / W, 969 / W], range=[0, 1], anchor=yr, mirror=True, showline=True,
               linecolor="#333", linewidth=1, showgrid=False, zeroline=False, ticks="outside",
               ticklen=3.5, tickcolor="#333", tickvals=[0, .5, 1], ticktext=["0.0", "0.5", "1.0"],
               showticklabels=last, tickfont=dict(size=13.5))
    if last:
        xax["title"] = dict(text="τ<sup>*</sup>", font=dict(size=20), standoff=6)
    layout[f"xaxis{idx}"] = xax
    layout[f"yaxis{idx}"] = dict(domain=[1 - (top + HEAT_BOX_H) / H, 1 - top / H], range=[0, .5], anchor=xr, mirror=True,
                                 showline=True, linecolor="#333", linewidth=1, showgrid=False, zeroline=False,
                                 ticks="outside", ticklen=3.5, tickcolor="#333", tickvals=[0, .2, .4],
                                 ticktext=["0.0", "0.2", "0.4"], tickfont=dict(size=13.5),
                                 title=dict(text="ε", font=dict(size=19), standoff=6))
    cmap = HEAT_CMAPS[k]
    scale = [[n / (len(cmap) - 1), c] for n, c in enumerate(cmap)]
    fig.add_trace(go.Heatmap(
        z=z, x=[(i + .5) / 21 for i in range(21)], y=[(j + .5) / 22 for j in range(11)],
        xaxis=xr, yaxis=yr, zmin=HEAT_RANGES[k][0], zmax=HEAT_RANGES[k][1], colorscale=scale, hoverinfo="skip",
        colorbar=dict(x=981 / W, xanchor="left", xpad=0, ypad=0, y=1 - HEAT_BAR_CENTRE[k] / H, yanchor="middle",
                      thickness=7, thicknessmode="pixels", len=95, lenmode="pixels", outlinewidth=1, outlinecolor="#333",
                      tickvals=HEAT_TICKS[k], ticks="outside", ticklen=3, tickcolor="#333", tickfont=dict(size=13.5),
                      title=dict(text=HEAT_TITLES[k], side="right", font=dict(size=19.5, family="DejaVu Sans"))),
    ))
    idx += 1

# sphere scene
def to_xyz(pairs):
    lat = np.radians([p[0] for p in pairs])
    lon = np.radians([p[1] for p in pairs])
    return np.cos(lat) * np.cos(lon), np.cos(lat) * np.sin(lon), np.sin(lat)

for pts, col, sym, sz in [(S_PL, PURPLE_LIGHT, "square", 3.6), (S_PM, PURPLE_MID, "square", 3.6), (S_PD, PURPLE_DARK, "square", 3.6),
                          (S_OL, "#fdae6b", "circle", 3.6), (S_OD, "#e2590b", "circle", 3.6)]:
    a, b, c = to_xyz(pts)
    fig.add_trace(go.Scatter3d(x=a, y=b, z=c, mode="markers", scene="scene",
                               marker=dict(color=col, size=sz, symbol=sym, line=dict(width=0)), hoverinfo="skip"))
for lat in S_MESH_LATS:
    a, b, c = to_xyz([(lat, lon) for lon in S_MESH_STEP_LON])
    fig.add_trace(go.Scatter3d(x=a, y=b, z=c, mode="lines", scene="scene", line=dict(color="black", width=1.8, dash="dash"), hoverinfo="skip"))
for lon in S_MESH_LONS:
    a, b, c = to_xyz([(lat, lon) for lat in S_MESH_STEP_LAT])
    fig.add_trace(go.Scatter3d(x=a, y=b, z=c, mode="lines", scene="scene", line=dict(color="black", width=1.3, dash="dot"), hoverinfo="skip"))

# z axis drawn on the right-hand edge, as in the picture
zx, zy = [S_LIM, S_LIM], [S_LIM, S_LIM]
fig.add_trace(go.Scatter3d(x=zx, y=zy, z=[-S_LIM, S_LIM], mode="lines", scene="scene", line=dict(color="#333", width=2), hoverinfo="skip"))
for t in S_TICKS:
    fig.add_trace(go.Scatter3d(x=[S_LIM, S_LIM - .06], y=[S_LIM, S_LIM - .06], z=[t, t], mode="lines", scene="scene",
                               line=dict(color="#333", width=2), hoverinfo="skip"))

ax3d = dict(range=[-S_LIM, S_LIM], tickvals=S_TICKS, ticktext=S_TICK_TEXT,
            showbackground=True, backgroundcolor="#f0f0f0", gridcolor="#d0d0d0", showline=True, linecolor="#333",
            zeroline=False, title=dict(text=""), tickfont=dict(size=12.5, family=FONT, color="#262626"), ticks="outside", ticklen=3)
zax = dict(ax3d, showticklabels=False, ticks="", showline=False)
layout["scene"] = dict(domain=dict(x=[485 / W, 790 / W], y=[1 - 340 / H, 1 - 0 / H]),
                       xaxis=ax3d, yaxis=ax3d, zaxis=zax, aspectmode="manual", aspectratio=dict(x=1, y=1, z=.8),
                       camera=dict(eye=dict(x=1.0, y=-1.73, z=1.1), up=dict(x=0, y=0, z=1), center=dict(x=0, y=0, z=-.25),
                                   projection=dict(type="orthographic")), bgcolor="rgba(0,0,0,0)",
                       annotations=[dict(x=S_LIM, y=S_LIM, z=t, text=s, showarrow=False, xanchor="left", xshift=8,
                                         font=dict(size=12.5, family=FONT, color="#262626")) for t, s in zip(S_TICKS, S_TICK_TEXT)])

# fraction bars
shapes.append(dict(type="line", xref="paper", yref="paper", x0=396 / W, x1=441 / W, y0=1 - 709 / H, y1=1 - 709 / H, line=dict(color="#222", width=1)))
shapes.append(dict(type="line", xref="paper", yref="paper", x0=24 / W, x1=24 / W, y0=1 - 338 / H, y1=1 - 383 / H, line=dict(color="#222", width=1)))
layout["shapes"] = shapes

def note(px, py, text, size=10.5, family=FONT, angle=0, color="#262626"):
    return dict(x=px / W, y=1 - py / H, xref="paper", yref="paper", text=text, showarrow=False, textangle=angle,
                xanchor="center", yanchor="middle", font=dict(size=size, family=family, color=color))

layout["annotations"] = [
    note(87, 638, "<b>A</b>", 10.5, color="black"), note(301, 638, "<b>B</b>", 10.5, color="black"), note(708, 638, "<b>C</b>", 10.5, color="black"),
    note(194, 285, "<b>D</b>", 10.5, color="black"), note(600, 285, "<b>E</b>", 10.5, color="black"), note(300, 100, "<b>F</b>", 10.5, color="black"),
    note(372, 711, "τ<sup>*</sup> =", 16), note(418, 701, "τ<sup>∈</sup> + τ<sup>∉</sup>", 11), note(418, 719, "2", 11),
    note(27, 405, "ε =", 16, angle=-90), note(15, 360, "τ<sup>∈</sup> − τ<sup>∉</sup>", 11, angle=-90), note(33, 360, "2", 11, angle=-90),
    note(398, 755, "(a) Maps", 23.5, SERIF, color="black"), note(921, 775, "(b) Indicators", 23.5, SERIF, color="black"),
]
fig.update_layout(**layout)
fig.write_html("out.html", config={"displayModeBar": False},
               post_script='document.body.style.margin="0";document.body.style.overflow="hidden";')
